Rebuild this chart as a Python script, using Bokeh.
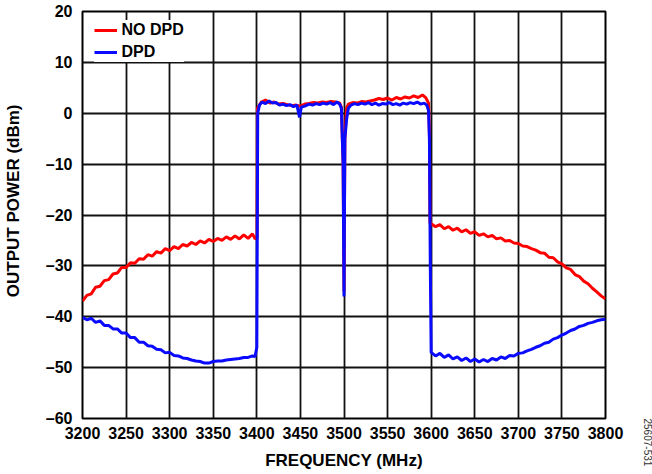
import math
from bokeh.plotting import figure
from bokeh.models import (ColumnDataSource, FixedTicker, Legend, LegendItem, LinearAxis, Range1d)
from bokeh.embed import file_html
from bokeh.resources import INLINE

# ---------------- data ----------------
x_ticks = [3200, 3250, 3300, 3350, 3400, 3450, 3500, 3550, 3600, 3650, 3700, 3750, 3800]
x_tick_labels = ["3200", "3250", "3300", "3350", "3400", "3450", "3500", "3550", "3600", "3650", "3700", "3750", "3800"]
y_ticks = [-60, -50, -40, -30, -20, -10, 0, 10, 20]
y_tick_labels = ["–60", "–50", "–40", "–30", "–20", "–10", "0", "10", "20"]

x_title = "FREQUENCY (MHz)"
y_title = "OUTPUT POWER (dBm)"
fig_id = "25607-531"

freq_nodpd = [
    3200, 3205, 3210, 3215, 3220, 3225, 3230, 3235, 3240, 3245, 3250, 3255, 3260, 3265, 3270, 3275,
    3280, 3285, 3290, 3295, 3300, 3305, 3310, 3315, 3320, 3325, 3330, 3335, 3340, 3345, 3350, 3355,
    3360, 3365, 3370, 3375, 3380, 3385, 3390, 3395, 3398, 3400.3,
    3400.7, 3405, 3410, 3415, 3420, 3425, 3430, 3435, 3440, 3445, 3450, 3455, 3460, 3465, 3470, 3475,
    3480, 3485, 3490, 3495, 3497, 3499, 3500, 3501, 3503, 3505, 3510, 3515, 3520, 3525, 3530, 3535, 3540, 3545,
    3550, 3555, 3560, 3565, 3570, 3575, 3580, 3585, 3590, 3594, 3597, 3598, 3598.7,
    3600, 3605, 3610, 3615, 3620, 3625, 3630, 3635, 3640, 3645, 3650, 3655, 3660, 3665, 3670, 3675,
    3680, 3685, 3690, 3695, 3700, 3705, 3710, 3715, 3720, 3725, 3730, 3735, 3740, 3745, 3750, 3755,
    3760, 3765, 3770, 3775, 3780, 3785, 3790, 3795, 3800,
]
pwr_nodpd = [
    -36.9, -35.8, -35.5, -34.2, -34.0, -32.9, -32.7, -31.6, -31.4, -30.3, -30.3, -29.4, -29.5, -28.6, -28.7, -27.8,
    -28.1, -27.2, -27.5, -26.6, -27.0, -26.2, -26.6, -25.8, -26.1, -25.4, -25.8, -25.1, -25.5, -24.8, -25.2, -24.6,
    -25.0, -24.3, -24.8, -24.1, -24.7, -23.9, -24.6, -23.7, -24.7, -24.5,
    1.0, 2.2, 2.6, 2.0, 2.2, 1.8, 1.9, 1.7, 1.5, 1.6, 1.4, 1.8, 1.9, 2.1, 2.0, 2.2,
    2.1, 2.3, 2.2, 2.0, 1.2, -10.0, -35.0, -5.0, 1.0, 1.8, 2.1, 2.0, 2.3, 2.2, 2.4, 2.6, 2.9, 2.7,
    3.0, 2.6, 3.1, 2.8, 3.2, 3.0, 3.4, 3.1, 3.6, 3.0, 2.0, -4.0, -21.6,
    -21.7, -22.3, -21.9, -22.7, -22.3, -23.0, -22.6, -23.3, -22.9, -23.6, -23.3, -24.0, -23.7, -24.3, -24.0, -24.7,
    -24.5, -25.1, -25.0, -25.5, -25.6, -26.1, -26.2, -26.6, -26.9, -27.4, -27.5, -28.3, -28.4, -29.2, -29.6, -30.4,
    -30.7, -31.7, -32.1, -33.0, -33.5, -34.4, -35.1, -35.9, -36.5,
]

freq_dpd = [
    3200, 3205, 3210, 3215, 3220, 3225, 3230, 3235, 3240, 3245, 3250, 3255, 3260, 3265, 3270, 3275,
    3280, 3285, 3290, 3295, 3300, 3305, 3310, 3315, 3320, 3325, 3330, 3335, 3340, 3345, 3350, 3355,
    3360, 3365, 3370, 3375, 3380, 3385, 3390, 3395, 3398, 3400,
    3401, 3403, 3406, 3410, 3414, 3418, 3422, 3426, 3430, 3434, 3438, 3442, 3446, 3449, 3451, 3455,
    3460, 3464, 3468, 3472, 3476, 3480, 3484, 3488, 3492, 3495, 3497, 3499, 3500, 3501, 3503, 3505,
    3508, 3512, 3516, 3520, 3524, 3528, 3532, 3536, 3540, 3544, 3548, 3552, 3556, 3560, 3564, 3568,
    3572, 3576, 3580, 3584, 3588, 3592, 3595, 3597, 3598, 3599,
    3600, 3605, 3610, 3615, 3620, 3625, 3630, 3635, 3640, 3645, 3650, 3655, 3660, 3665, 3670, 3675,
    3680, 3685, 3690, 3695, 3700, 3705, 3710, 3715, 3720, 3725, 3730, 3735, 3740, 3745, 3750, 3755,
    3760, 3765, 3770, 3775, 3780, 3785, 3790, 3795, 3800,
]
pwr_dpd = [
    -40.1, -40.6, -40.3, -41.1, -40.8, -41.7, -41.7, -42.4, -42.4, -43.2, -43.2, -44.1, -44.1, -45.0, -45.0, -45.7,
    -45.8, -46.4, -46.5, -47.1, -47.0, -47.6, -47.7, -48.1, -48.2, -48.5, -48.7, -48.8, -49.1, -49.1, -48.8, -48.7,
    -48.7, -48.5, -48.4, -48.3, -48.2, -48.0, -48.0, -47.7, -47.8, -46.0,
    0.0, 1.6, 2.2, 1.9, 2.4, 2.0, 2.1, 1.6, 1.8, 1.5, 1.7, 1.3, 1.6, -0.8, 1.2, 1.4,
    1.8, 1.6, 1.9, 1.7, 2.0, 1.8, 2.1, 1.7, 2.2, 1.8, 1.0, -10.0, -36.0, -5.0, -1.2, 1.0,
    1.6, 1.9, 1.7, 2.0, 1.8, 2.1, 1.7, 2.0, 1.6, 1.9, 1.8, 2.1, 1.7, 1.9, 1.6, 2.0,
    1.8, 2.1, 1.9, 2.2, 1.8, 2.0, 1.6, 0.5, -5.0, -30.0,
    -47.0, -47.7, -47.2, -48.0, -47.5, -48.3, -47.9, -48.6, -48.1, -48.8, -48.3, -48.9, -48.4, -48.8, -48.2, -48.5,
    -47.9, -48.2, -47.6, -47.7, -47.2, -47.1, -46.7, -46.4, -46.0, -45.7, -45.2, -45.0, -44.4, -44.1, -43.6, -43.2,
    -42.7, -42.4, -41.9, -41.7, -41.3, -41.1, -40.8, -40.6, -40.5,
]

series_names = ["NO DPD", "DPD"]
series_colors = ["#ff0000", "#0a0aff"]

FONT = "Liberation Sans"

# ---------------- figure ----------------
p = figure(frame_width=523, frame_height=407, output_backend="svg", toolbar_location=None,
           x_range=Range1d(3200, 3800), y_range=Range1d(-60, 20),
           min_border_left=80, min_border_right=49, min_border_top=11, min_border_bottom=56)
p.title.visible = False
p.background_fill_color = "white"
p.border_fill_color = "white"
p.outline_line_color = "black"
p.outline_line_width = 2

src_nodpd = ColumnDataSource(dict(f=freq_nodpd, p=pwr_nodpd))
src_dpd = ColumnDataSource(dict(f=freq_dpd, p=pwr_dpd))

r1 = p.line("f", "p", source=src_nodpd, line_color=series_colors[0], line_width=3)
r2 = p.line("f", "p", source=src_dpd, line_color=series_colors[1], line_width=3)

# grid
p.xgrid.ticker = FixedTicker(ticks=x_ticks)
p.ygrid.ticker = FixedTicker(ticks=y_ticks)
for g in (p.xgrid, p.ygrid):
    g.grid_line_color = "#111111"
    g.grid_line_width = 1.8
    g.grid_line_alpha = 1.0

# axes
xa = p.xaxis[0]
ya = p.yaxis[0]
xa.ticker = FixedTicker(ticks=x_ticks)
ya.ticker = FixedTicker(ticks=y_ticks)
xa.major_label_overrides = {t: l for t, l in zip(x_ticks, x_tick_labels)}
ya.major_label_overrides = {t: l for t, l in zip(y_ticks, y_tick_labels)}
for ax in (xa, ya):
    ax.axis_line_color = None
    ax.major_tick_line_color = None
    ax.minor_tick_line_color = None
    ax.major_tick_out = 0
    ax.major_tick_in = 0
    ax.minor_tick_out = 0
    ax.minor_tick_in = 0
    ax.major_label_text_font = FONT
    ax.major_label_text_font_style = "bold"
    ax.major_label_text_font_size = "16px"
    ax.major_label_text_color = "black"
    ax.axis_label_text_font = FONT
    ax.axis_label_text_font_style = "bold"
    ax.axis_label_text_font_size = "17px"
    ax.axis_label_text_color = "black"
xa.axis_label = x_title
ya.axis_label = "\u00a0" * 6 + y_title
xa.major_label_standoff = 8
ya.major_label_standoff = 10
xa.axis_label_standoff = 9
ya.axis_label_standoff = 20

# figure id, drawn as a single rotated tick label on a right-hand axis at the frame bottom
ra = LinearAxis(ticker=FixedTicker(ticks=[-60]))
ra.major_label_overrides = {-60: fig_id}
ra.major_label_orientation = -math.pi / 2
ra.axis_line_color = None
ra.major_tick_line_color = None
ra.minor_tick_line_color = None
ra.major_tick_out = 0
ra.major_tick_in = 0
ra.minor_tick_out = 0
ra.minor_tick_in = 0
ra.major_label_standoff = 42
ra.major_label_text_font = FONT
ra.major_label_text_font_size = "10px"
ra.major_label_text_color = "#333333"
p.add_layout(ra, "right")

# legend
legend = Legend(items=[LegendItem(label=series_names[0], renderers=[r1]),
                       LegendItem(label=series_names[1], renderers=[r2])],
                location=(11.5, 356), orientation="vertical")
legend.padding = 2
legend.margin = 0
legend.spacing = 2
legend.label_height = 20
legend.glyph_height = 20
legend.glyph_width = 23
legend.label_standoff = 5
legend.label_text_font = FONT
legend.label_text_font_style = "bold"
legend.label_text_font_size = "16px"
legend.label_text_color = "black"
legend.border_line_color = None
legend.background_fill_color = "white"
legend.background_fill_alpha = 1.0
p.add_layout(legend)

open("out.html", "w").write(file_html(p, INLINE))
